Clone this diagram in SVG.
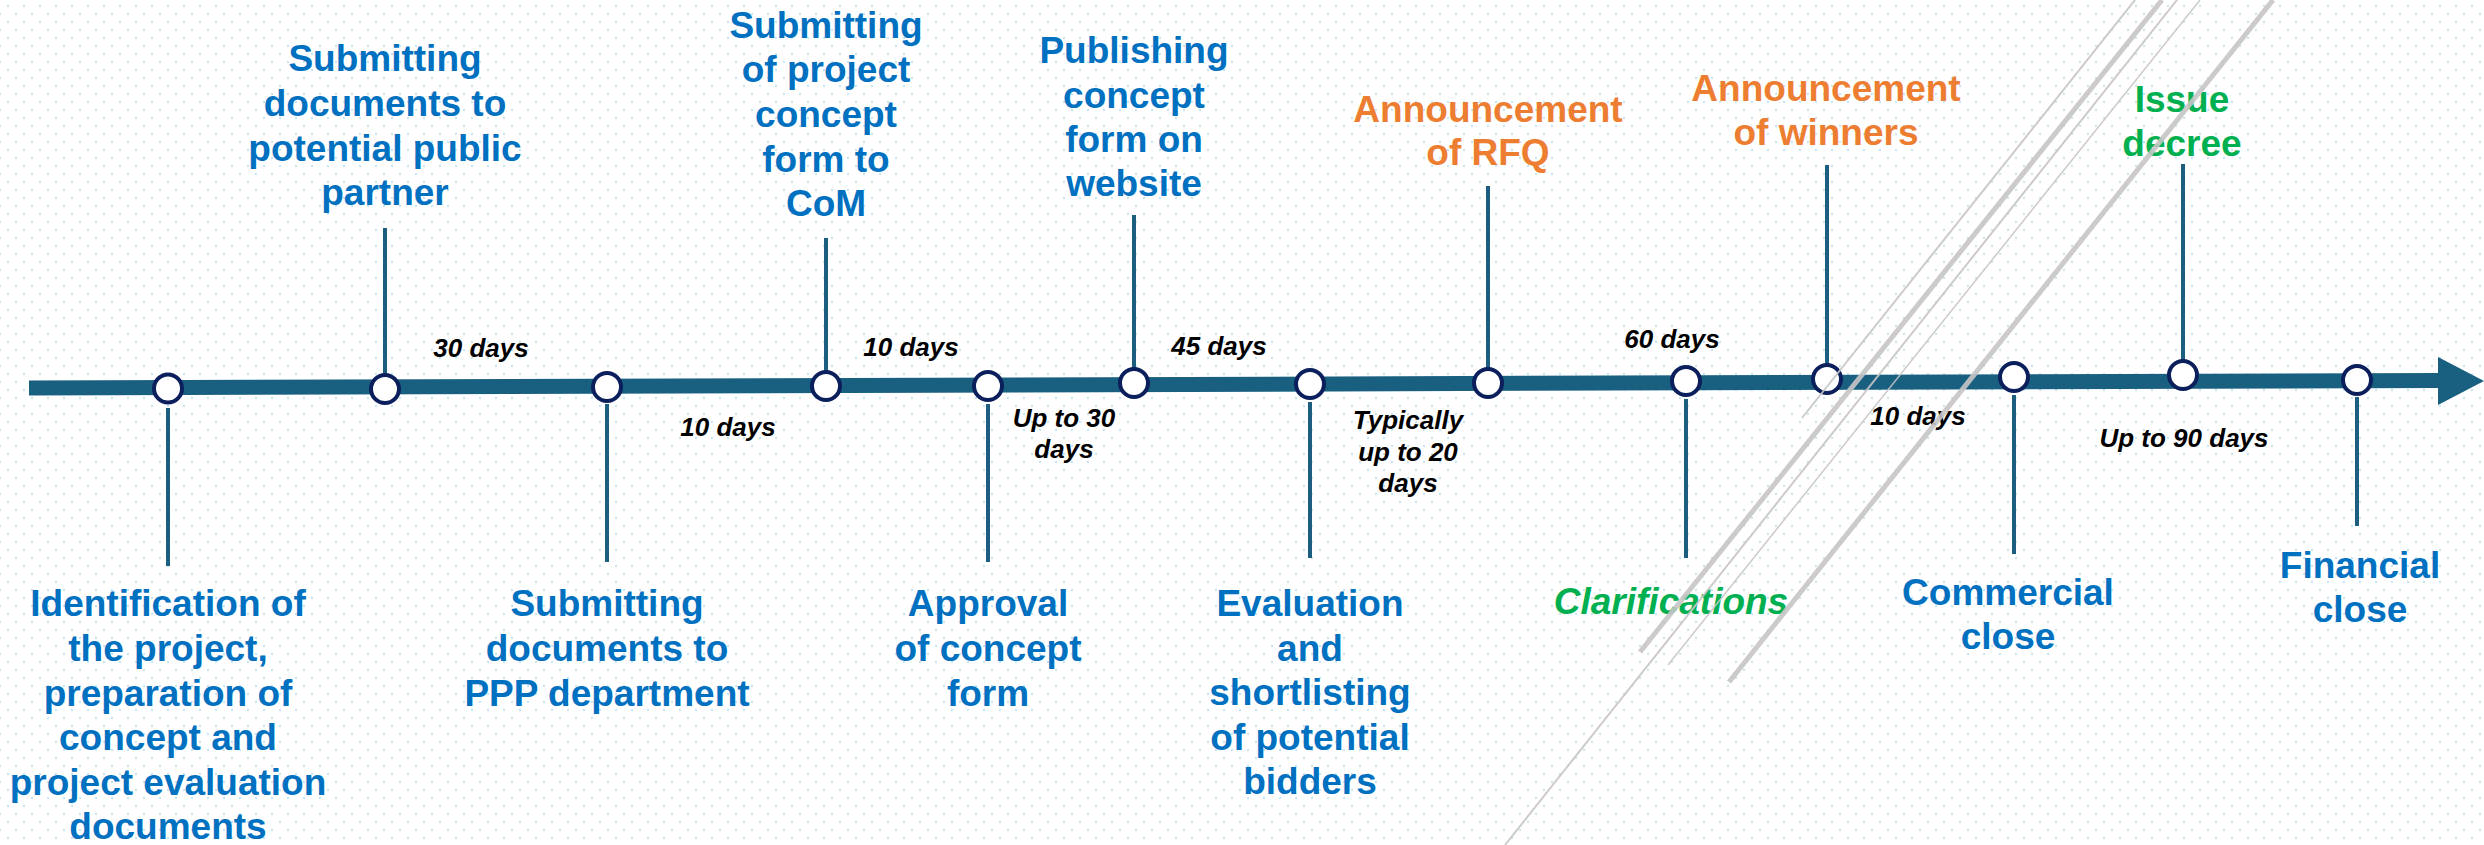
<svg xmlns="http://www.w3.org/2000/svg" width="2484" height="845" viewBox="0 0 2484 845">
<defs>
<pattern id="dots" patternUnits="userSpaceOnUse" width="16" height="16">
<rect x="7" y="5" width="2" height="2" fill="#c4e5f6"/>
<rect x="-1" y="13" width="2" height="2" fill="#c4e5f6"/>
<rect x="15" y="13" width="2" height="2" fill="#c4e5f6"/>
</pattern>
<style>
.lbl{font-family:"Liberation Sans",Arial,sans-serif;font-weight:bold;font-size:37px;text-anchor:middle}
.blue{fill:#0070C0}
.orange{fill:#ED7D31}
.green{fill:#00B050}
.dur{font-family:"Liberation Sans",Arial,sans-serif;font-weight:bold;font-style:italic;font-size:26px;text-anchor:middle;fill:#000}
.stem{stroke:#1B5E80;stroke-width:4;fill:none}
.ms{fill:#fff;stroke:#0B1F5C;stroke-width:4}
.gl{stroke:#c6c6c6;fill:none;stroke-linecap:butt}
</style>
</defs>
<rect width="2484" height="845" fill="#ffffff"/>
<rect width="2484" height="845" fill="url(#dots)"/>

<g id="connectors">
<line x1="29" y1="388" x2="2440" y2="380.5" stroke="#185F80" stroke-width="15"/>
<polygon points="2438,357 2484,381 2438,405" fill="#185F80"/>
<line class="stem" x1="168" y1="408" x2="168" y2="566"/>
<line class="stem" x1="385" y1="228" x2="385" y2="374"/>
<line class="stem" x1="607" y1="404" x2="607" y2="562"/>
<line class="stem" x1="826" y1="238" x2="826" y2="371"/>
<line class="stem" x1="988" y1="404" x2="988" y2="562"/>
<line class="stem" x1="1134" y1="215" x2="1134" y2="368"/>
<line class="stem" x1="1310" y1="402" x2="1310" y2="558"/>
<line class="stem" x1="1488" y1="186" x2="1488" y2="368"/>
<line class="stem" x1="1686" y1="399" x2="1686" y2="558"/>
<line class="stem" x1="1827" y1="165" x2="1827" y2="364"/>
<line class="stem" x1="2014" y1="395" x2="2014" y2="554"/>
<line class="stem" x1="2183" y1="164" x2="2183" y2="360"/>
<line class="stem" x1="2357" y1="397" x2="2357" y2="526"/>
</g>

<g id="durations">
<text class="dur" x="481" y="357">30 days</text>
<text class="dur" x="728" y="436">10 days</text>
<text class="dur" x="911" y="356">10 days</text>
<text class="dur" x="1064"><tspan x="1064" y="427">Up to 30</tspan><tspan x="1064" y="458">days</tspan></text>
<text class="dur" x="1219" y="355">45 days</text>
<text class="dur" x="1408"><tspan x="1408" y="429">Typically</tspan><tspan x="1408" y="461">up to 20</tspan><tspan x="1408" y="492">days</tspan></text>
<text class="dur" x="1672" y="348">60 days</text>
<text class="dur" x="1918" y="425">10 days</text>
<text class="dur" x="2184" y="447">Up to 90 days</text>
</g>

<g id="m1">
<circle class="ms" cx="168" cy="388.5" r="14"/>
<text class="lbl blue"><tspan x="168" y="616">Identification of</tspan><tspan x="168" y="661">the project,</tspan><tspan x="168" y="706">preparation of</tspan><tspan x="168" y="750">concept and</tspan><tspan x="168" y="795">project evaluation</tspan><tspan x="168" y="839">documents</tspan></text>
</g>
<g id="m2">
<circle class="ms" cx="385" cy="389" r="14"/>
<text class="lbl blue"><tspan x="385" y="71">Submitting</tspan><tspan x="385" y="116">documents to</tspan><tspan x="385" y="161">potential public</tspan><tspan x="385" y="205">partner</tspan></text>
</g>
<g id="m3">
<circle class="ms" cx="607" cy="387" r="14"/>
<text class="lbl blue"><tspan x="607" y="616">Submitting</tspan><tspan x="607" y="661">documents to</tspan><tspan x="607" y="706">PPP department</tspan></text>
</g>
<g id="m4">
<circle class="ms" cx="826" cy="386" r="14"/>
<text class="lbl blue"><tspan x="826" y="38">Submitting</tspan><tspan x="826" y="82">of project</tspan><tspan x="826" y="127">concept</tspan><tspan x="826" y="172">form to</tspan><tspan x="826" y="216">CoM</tspan></text>
</g>
<g id="m5">
<circle class="ms" cx="988" cy="386" r="14"/>
<text class="lbl blue"><tspan x="988" y="616">Approval</tspan><tspan x="988" y="661">of concept</tspan><tspan x="988" y="706">form</tspan></text>
</g>
<g id="m6">
<circle class="ms" cx="1134" cy="383" r="14"/>
<text class="lbl blue"><tspan x="1134" y="63">Publishing</tspan><tspan x="1134" y="108">concept</tspan><tspan x="1134" y="152">form on</tspan><tspan x="1134" y="196">website</tspan></text>
</g>
<g id="m7">
<circle class="ms" cx="1310" cy="384" r="14"/>
<text class="lbl blue"><tspan x="1310" y="616">Evaluation</tspan><tspan x="1310" y="661">and</tspan><tspan x="1310" y="705">shortlisting</tspan><tspan x="1310" y="750">of potential</tspan><tspan x="1310" y="794">bidders</tspan></text>
</g>
<g id="m8">
<circle class="ms" cx="1488" cy="383" r="14"/>
<text class="lbl orange"><tspan x="1488" y="122">Announcement</tspan><tspan x="1488" y="165">of RFQ</tspan></text>
</g>
<g id="m9">
<circle class="ms" cx="1686" cy="381" r="14"/>
<text class="lbl green" font-style="italic" x="1671" y="614">Clarifications</text>
</g>
<g id="m10">
<circle class="ms" cx="1827" cy="379" r="14"/>
<text class="lbl orange"><tspan x="1826" y="101">Announcement</tspan><tspan x="1826" y="145">of winners</tspan></text>
</g>
<g id="m11">
<circle class="ms" cx="2014" cy="377" r="14"/>
<text class="lbl blue"><tspan x="2008" y="605">Commercial</tspan><tspan x="2008" y="649">close</tspan></text>
</g>
<g id="m12">
<circle class="ms" cx="2183" cy="375" r="14"/>
<text class="lbl green"><tspan x="2182" y="112">Issue</tspan><tspan x="2182" y="156">decree</tspan></text>
</g>
<g id="m13">
<circle class="ms" cx="2357" cy="380" r="14"/>
<text class="lbl blue"><tspan x="2360" y="578">Financial</tspan><tspan x="2360" y="622">close</tspan></text>
</g>

<g id="decor" opacity="0.9">
<line class="gl" x1="1802" y1="418" x2="2135" y2="0" stroke-width="2"/>
<line class="gl" x1="1640" y1="652" x2="2162" y2="0" stroke-width="5"/>
<line class="gl" x1="1505" y1="845" x2="2177" y2="0" stroke-width="2"/>
<line class="gl" x1="1668" y1="665" x2="2200" y2="0" stroke-width="1.5"/>
<line class="gl" x1="1729" y1="682" x2="2273" y2="0" stroke-width="5"/>
</g>
</svg>
